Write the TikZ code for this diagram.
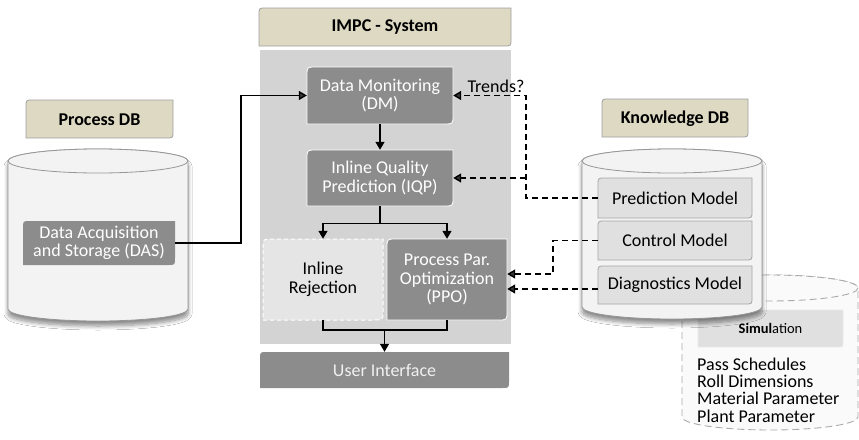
\documentclass[tikz,border=0pt]{standalone}
\usepackage{fontspec}
\setmainfont{Carlito}
\usetikzlibrary{arrows.meta,shadows.blur}
\definecolor{darkbox}{RGB}{140,140,140}
\definecolor{panel}{RGB}{211,211,211}
\definecolor{beige}{RGB}{221,217,195}
\definecolor{beigeline}{RGB}{160,160,160}
\definecolor{cylfill}{RGB}{243,243,243}
\definecolor{cylline}{RGB}{150,150,150}
\definecolor{modelfill}{RGB}{224,224,224}
\definecolor{modelline}{RGB}{165,165,165}
\definecolor{rejfill}{RGB}{229,229,229}
\definecolor{simline}{RGB}{170,170,170}
% rounded top-left and bottom-right corners: style, x1, y1, x2, y2, r
\newcommand\rdbox[6]{\path[#1] (#2,{#3+#6}) .. controls (#2,#3) .. ({#2+#6},#3) -- (#4,#3) -- (#4,{#5-#6}) .. controls (#4,#5) .. ({#4-#6},#5) -- (#2,#5) -- cycle;}
% cylinder: body style, top style, x1, x2, ytop, ybottom, ry
\newcommand\cylshape[7]{%
  \path[#1] (#3,#5) -- (#3,#6) arc[start angle=180,end angle=0,x radius={(#4-#3)/2},y radius=#7] -- (#4,#5) arc[start angle=0,end angle=-180,x radius={(#4-#3)/2},y radius=#7] -- cycle;
  \path[#2] ({(#3+#4)/2},#5) ellipse[x radius={(#4-#3)/2},y radius=#7];}
\tikzset{
  txt/.style={font=\fontsize{18}{18.5}\selectfont, align=center, inner sep=0pt},
  wtxt/.style={txt, text=white},
  btxt/.style={txt, font=\fontsize{18}{18.5}\selectfont\bfseries},
  darkshape/.style={fill=darkbox, draw=white, line width=0.8pt},
  beigeshape/.style={fill=beige, draw=beigeline, line width=0.8pt},
  modelshape/.style={fill=modelfill, draw=modelline, line width=0.8pt},
  conn/.style={line width=1.4pt, -{Triangle[length=8pt,width=9pt]}},
  plain/.style={line width=1.4pt},
  dconn/.style={line width=1.4pt, dash pattern=on 6pt off 4pt, -{Triangle[length=8pt,width=9pt]}},
  dplain/.style={line width=1.4pt, dash pattern=on 6pt off 4pt},
}
\begin{document}
\begin{tikzpicture}[x=1pt,y=-1pt]
\useasboundingbox (0,0) rectangle (859,439);
\fill[white] (0,0) rectangle (859,439);

% ---------- IMPC system ----------
\rdbox{beigeshape}{259}{8}{511}{46}{7}
\node[btxt] (impc) at (385,27) {IMPC - System};
\fill[panel] (260,50) rectangle (511,344);

\rdbox{darkshape}{307}{67}{453}{124}{9}
\node[wtxt, minimum width=146pt, minimum height=57pt] (dm) at (380,95.5) {Data Monitoring\\(DM)};
\rdbox{darkshape}{307}{150}{453}{206}{9}
\node[wtxt, minimum width=146pt, minimum height=56pt] (iqp) at (380,178) {Inline Quality\\Prediction (IQP)};

\rdbox{fill=rejfill, draw=white, line width=1pt, dash pattern=on 4pt off 3pt}{263}{239}{383}{320}{9}
\node[txt, minimum width=120pt, minimum height=81pt] (rej) at (323,279.5) {Inline\\Rejection};
\rdbox{darkshape}{387}{239}{507}{320}{9}
\node[wtxt, minimum width=120pt, minimum height=81pt] (ppo) at (447,279.5) {Process Par.\\Optimization\\(PPO)};

\rdbox{fill=darkbox}{260}{352}{509}{388}{7}
\node[wtxt, text=white!94!black, minimum width=249pt, minimum height=36pt] (ui) at (384.5,370) {User Interface};

\draw[conn] (dm.south) -- (iqp.north);
\draw[conn] (iqp.south) -- ++(0,17) -| (rej.north);
\draw[conn] (iqp.south) -- ++(0,17) -| (ppo.north);
\coordinate (mg) at (384.5,330);
\draw[plain] (rej.south) |- (mg) -| (ppo.south);
\draw[conn] (mg) -- (ui.north);

% ---------- Process DB ----------
\rdbox{beigeshape}{26}{100}{173}{138}{7}
\node[btxt] (pdb) at (99.5,119.5) {Process DB};
\cylshape{fill=cylfill, draw=cylline, line width=0.8pt, blur shadow={shadow xshift=0pt, shadow yshift=-5pt, shadow blur radius=4pt, shadow blur steps=8, shadow opacity=45}}{fill=cylfill, draw=cylline, line width=0.8pt}{8}{188}{161}{309}{12}
\rdbox{fill=darkbox}{23}{221}{175}{265}{7}
\node[wtxt, minimum width=152pt, minimum height=44pt] (das) at (99,243) {Data Acquisition\\and Storage (DAS)};
\coordinate (dasbend) at (241,0);
\draw[conn] (das.east) -| (dasbend |- dm.west) -- (dm.west);

% ---------- Simulation (behind) ----------
\cylshape{fill=white!98!black, draw=simline, line width=0.9pt, dash pattern=on 7pt off 4pt}{fill=white!98!black, draw=simline, line width=0.9pt, dash pattern=on 7pt off 4pt}{682}{858}{288}{417}{13}
\rdbox{fill=modelfill, draw=white!92!black, line width=0.8pt}{698}{310}{843}{347}{5}
\node[txt, font=\fontsize{14.5}{15}\selectfont, minimum width=145pt, minimum height=37pt] (sim) at (770.5,328.5) {{\bfseries Simul}ation};
\node[txt, align=left, font=\fontsize{18}{17.3}\selectfont, anchor=west] (simlist) at (697,390) {Pass Schedules\\Roll Dimensions\\Material Parameter\\Plant Parameter};

% ---------- Knowledge DB ----------
\rdbox{beigeshape}{602}{99}{748}{137}{7}
\node[btxt] (kdb) at (675,118.5) {Knowledge DB};
\cylshape{fill=cylfill, draw=cylline, line width=0.8pt, blur shadow={shadow xshift=0pt, shadow yshift=-5pt, shadow blur radius=4pt, shadow blur steps=8, shadow opacity=45}}{fill=cylfill, draw=cylline, line width=0.8pt}{582}{762}{161}{307}{12}
\rdbox{modelshape}{598}{178}{752}{218}{7}
\node[txt, minimum width=154pt, minimum height=40pt] (pred) at (675,198) {Prediction Model};
\rdbox{modelshape}{598}{221}{752}{260}{7}
\node[txt, minimum width=154pt, minimum height=39pt] (ctrl) at (675,240.5) {Control Model};
\rdbox{modelshape}{598}{266}{752}{304}{7}
\node[txt, minimum width=154pt, minimum height=38pt] (diag) at (675,285) {Diagnostics Model};

% ---------- dashed connectors ----------
\coordinate (pv) at (526,0);
\draw[dconn] (pred.west) -| (pv |- dm.east) -- (dm.east);
\draw[dconn] (pv |- iqp.east) -- (iqp.east);
\node[txt] (trends) at (496,86) {Trends?};
\coordinate (cv) at (553,0);
\coordinate (ppoA) at ([yshift=5.5pt]ppo.east);
\coordinate (ppoB) at ([yshift=-9.5pt]ppo.east);
\coordinate (diagB) at ([yshift=-4pt]diag.west);
\draw[dconn] (ctrl.west) -| (cv |- ppoA) -- (ppoA);
\draw[dconn] (diagB) -- (ppoB);
\end{tikzpicture}
\end{document}
